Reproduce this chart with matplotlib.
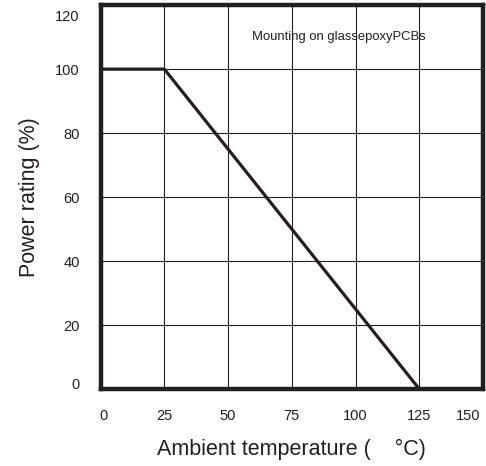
"""Power derating curve: power rating versus ambient temperature."""

import matplotlib.pyplot as plt
from matplotlib.transforms import ScaledTranslation

plt.rcParams['font.family'] = ['Liberation Sans', 'DejaVu Sans']

# Derating curve points
temps = [0, 25, 125]
power = [100, 100, 0]

x_ticks = [0, 25, 50, 75, 100, 125, 150]
y_ticks = [0, 20, 40, 60, 80, 100, 120]

INK = '#231f20'

fig = plt.figure(figsize=(4.86, 4.66), dpi=100)
ax = fig.add_axes([0.207, 0.165, 0.787, 0.824])

ax.plot(temps, power, color=INK, linewidth=2.3, solid_capstyle='butt',
        clip_on=False, zorder=3)

ax.set_xlim(0, 150)
ax.set_ylim(0, 120)
ax.set_xticks(x_ticks)
ax.set_yticks(y_ticks)
ax.grid(True, color=INK, linewidth=0.8)
ax.tick_params(length=0, labelsize=10.5, colors=INK)
ax.tick_params(axis='y', pad=15)
ax.tick_params(axis='x', pad=14)

for spine in ax.spines.values():
    spine.set_linewidth(3.2)
    spine.set_color(INK)

# the end labels sit a little inside, as in the original datasheet
fig.canvas.draw()
xlabs = ax.get_xticklabels()
ylabs = ax.get_yticklabels()
xlabs[-1].set_transform(xlabs[-1].get_transform() +
                        ScaledTranslation(-0.15, 0, fig.dpi_scale_trans))
xlabs[0].set_transform(xlabs[0].get_transform() +
                       ScaledTranslation(0.03, 0, fig.dpi_scale_trans))
ylabs[0].set_transform(ylabs[0].get_transform() +
                       ScaledTranslation(0, 0.06, fig.dpi_scale_trans))
ylabs[-1].set_transform(ylabs[-1].get_transform() +
                        ScaledTranslation(0, -0.10, fig.dpi_scale_trans))

ax.text(93.5, 110, 'Mounting on glassepoxyPCBs', fontsize=9.4,
        ha='center', va='center', color=INK)

ax.set_xlabel('Ambient temperature (    °C)', fontsize=15.5,
              color=INK, labelpad=12)
ax.set_ylabel('Power rating (%)', fontsize=15.5, color=INK,
              labelpad=11)

fig.savefig('out.png', dpi=100)
